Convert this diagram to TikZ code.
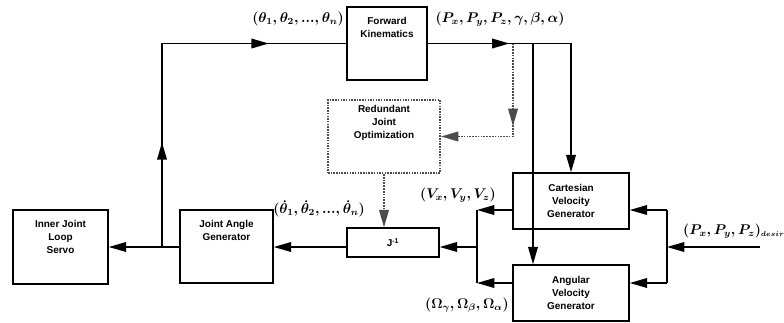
\documentclass[tikz,border=0pt]{standalone}
\usepackage{fontspec}
\newfontfamily\boxfont{Liberation Sans}
\usetikzlibrary{arrows.meta,decorations.markings}
% text of a block, lifted by #1 above the block centre
\newcommand{\upbox}[2]{\raisebox{#1}[0pt][0pt]{\begin{tabular}{@{}c@{}}#2\end{tabular}}}

\begin{document}
\begin{tikzpicture}[x=.03cm,y=-.03cm,
    >={Triangle[length=5.2mm,width=2.9mm]},
    block/.style={draw,line width=1.3pt,align=center,inner sep=0pt,
      font=\boxfont\bfseries\fontsize{8.5}{11}\selectfont},
    sig/.style={line width=1.2pt},
    opt/.style={densely dotted,line width=1.4pt,black!70},
    lab/.style={font=\fontsize{12}{14}\selectfont\boldmath,inner sep=0pt},
    midarrow/.style={postaction=decorate,decoration={markings,
      mark=at position #1 with {\arrow{>}}}}]
  \useasboundingbox (0,0) rectangle (784,322);

  % blocks
  \node[block,minimum width=2.85cm,minimum height=2.22cm] (servo) at (60.5,247) {\upbox{2mm}{Inner Joint\\Loop\\Servo}};
  \node[block,minimum width=2.79cm,minimum height=2.19cm] (jag) at (226.5,246.5) {\upbox{3.9mm}{Joint Angle\\Generator}};
  \node[block,minimum width=2.4cm,minimum height=2.19cm] (fk) at (387,43.5) {\upbox{3.7mm}{Forward\\Kinematics}};
  \node[block,draw=black!70,densely dotted,line width=1.8pt,minimum width=3.36cm,minimum height=2.19cm] (red) at (384,136.5) {\upbox{3.3mm}{Redundant\\Joint\\Optimization}};
  \node[block,minimum width=2.76cm,minimum height=.87cm] (jinv) at (393,242.5) {J\textsuperscript{-1}};
  \node[block,minimum width=3.48cm,minimum height=1.68cm] (cart) at (571,201) {Cartesian\\Velocity\\Generator};
  \node[block,minimum width=3.48cm,minimum height=1.68cm] (ang) at (571,293) {Angular\\Velocity\\Generator};

  \coordinate (jn) at (162,247);
  \coordinate (split) at (533,43.5);
  \coordinate (tap) at (513,43.5);
  \coordinate (jl) at (477,247);
  \coordinate (jlc) at (477,210);
  \coordinate (jla) at (477,283);
  \coordinate (jr) at (667,247);
  \coordinate (jrc) at (667,210);
  \coordinate (jra) at (667,283);
  \coordinate (des) at (760,247);

  % joint loop
  \draw[sig] (jag.west |- jn) -- (jn);
  \draw[sig,->] (jn) -- (servo.east |- jn);
  \draw[sig,postaction=decorate,decoration={markings,
      mark=at position .27 with {\arrow{>}},
      mark=at position .8 with {\arrow{>}}}] (jn) |- (fk.west);

  % pose out of the kinematics
  \draw[sig,->,midarrow=.3] (fk.east) -| (cart.north);
  \draw[sig,->] (split) -- (split |- ang.north);

  % optimization (dotted)
  \draw[opt,->,midarrow=.5] (tap) |- (red.east);
  \draw[opt,->] (red.south) -- (red.south |- jinv.north);

  % velocities into the inverse jacobian
  \draw[sig,->] (cart.west |- jlc) -- (jlc);
  \draw[sig,->] (ang.west |- jla) -- (jla);
  \draw[sig] (jlc) -- (jla);
  \draw[sig,->] (jl) -- (jinv.east |- jl);
  \draw[sig,->] (jinv.west |- jl) -- (jag.east |- jl);

  % desired position
  \draw[sig] (jrc) -- (jra);
  \draw[sig,->] (jrc) -- (cart.east |- jrc);
  \draw[sig,->] (jra) -- (ang.east |- jra);
  \draw[sig,->] (des) -- (jr);

  % signal names
  \node[lab] (thetas) at (298,19) {$(\theta_1,\theta_2,...,\theta_n)$};
  \node[lab] (pose) at (500,19) {$(P_x,P_y,P_z,\gamma,\beta,\alpha)$};
  \node[lab] (thetadots) at (319,209) {$(\dot\theta_1,\dot\theta_2,...,\dot\theta_n)$};
  \node[lab] (vel) at (458,195) {$(V_x,V_y,V_z)$};
  \node[lab] (omega) at (467,305) {$(\Omega_\gamma,\Omega_\beta,\Omega_\alpha)$};
  \node[lab,anchor=west] (desired) at (683,231) {$(P_x,P_y,P_z)_{\scriptscriptstyle desired}$};
\end{tikzpicture}
\end{document}
